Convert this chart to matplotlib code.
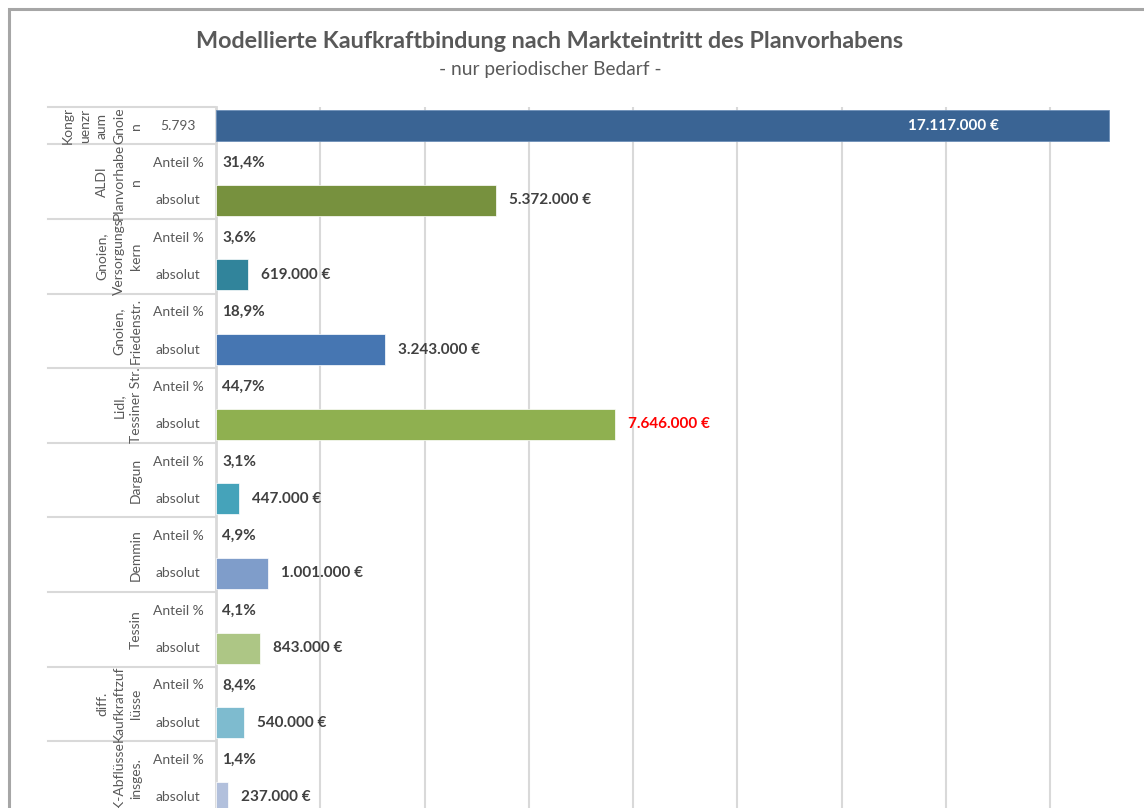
import matplotlib
matplotlib.use('Agg')
import matplotlib.pyplot as plt
from matplotlib.lines import Line2D
from matplotlib.patches import Rectangle
from matplotlib.transforms import blended_transform_factory

plt.rcParams['font.family'] = ['Lato', 'DejaVu Sans']

# Daten
kongruenz_name = "Kongr\nuenzr\naum\nGnoie\nn"
kongruenz_label = "5.793"
kongruenz_wert = 17117000

gruppen = ["ALDI\nPlanvorhabe\nn", "Gnoien,\nVersorgungs\nkern", "Gnoien,\nFriedenstr.",
           "Lidl,\nTessiner Str.", "Dargun", "Demmin", "Tessin",
           "diff.\nKaufkraftzuf\nlüsse", "KK-Abflüsse\ninsges."]
anteil = [31.4, 3.6, 18.9, 44.7, 3.1, 4.9, 4.1, 8.4, 1.4]
absolut = [5372000, 619000, 3243000, 7646000, 447000, 1001000, 843000, 540000, 237000]

farben = ['#77913E', '#31849B', '#4676B2', '#8FB050', '#45A3BA',
          '#7F9DCA', '#ADC685', '#7EBBCF', '#B2C0DC']
farbe_kongruenz = '#3A6494'

W, H = 1144, 808
fig = plt.figure(figsize=(W / 100, H / 100), dpi=100)

def fx(px):
    return px / W

def fy(py):
    return 1 - py / H

# Rahmen des Diagramms
fig.add_artist(Rectangle((fx(9), fy(900)), 2, fy(9) - fy(900), transform=fig.transFigure,
                         fill=False, edgecolor='#A6A6A6', linewidth=2.2))

fig.text(fx(550), fy(42), "Modellierte Kaufkraftbindung nach Markteintritt des Planvorhabens",
         ha='center', va='center', fontsize=16.8, fontweight='bold', color='#595959')
fig.text(fx(550), fy(70), "- nur periodischer Bedarf -",
         ha='center', va='center', fontsize=13.8, color='#595959')

n_rows = 1 + 2 * len(gruppen)
top_px, bottom_px = 107, 816
ax = fig.add_axes([fx(216), fy(bottom_px), fx(W) - fx(216), fy(top_px) - fy(bottom_px)])

def euro(v):
    return f"{v:,.0f}".replace(",", ".") + " €"

bh = 0.83
ax.barh(0, kongruenz_wert, height=bh, color=farbe_kongruenz, edgecolor='#6d8fb8', linewidth=0.6, zorder=3)
ax.text(kongruenz_wert - 2100000, 0, euro(kongruenz_wert), ha='right', va='center',
        fontsize=11, fontweight='bold', color='white', zorder=4)

off = 250000
for i, g in enumerate(gruppen):
    ya = 1 + 2 * i
    yb = ya + 1
    ax.text(120000, ya, f"{anteil[i]:.1f}%".replace(".", ","), ha='left', va='center',
            fontsize=11, fontweight='bold', color='#404040', zorder=4)
    ax.barh(yb, absolut[i], height=bh, color=farben[i], edgecolor='white', linewidth=0.5, zorder=3)
    col = '#FF0000' if i == 3 else '#404040'
    ax.text(absolut[i] + off, yb, euro(absolut[i]), ha='left', va='center',
            fontsize=11, fontweight='bold', color=col, zorder=4)

ax.set_xticks(range(0, 20000001, 2000000))
ax.set_xlim(0, (W - 216) / 104.3 * 2000000)
ax.set_ylim(n_rows - 0.5, -0.5)
ax.grid(axis='x', color='#D9D9D9', linewidth=1.5, zorder=0)
ax.tick_params(left=False, bottom=False, labelleft=False, labelbottom=False)
for s in ['top', 'right', 'bottom']:
    ax.spines[s].set_visible(False)
ax.spines['left'].set_color('#D9D9D9')
ax.spines['left'].set_linewidth(2)

# Kategorie-Beschriftungen links
tr = blended_transform_factory(fig.transFigure, ax.transData)
row_labels = [kongruenz_label] + ["Anteil %", "absolut"] * len(gruppen)
for r, lab in enumerate(row_labels):
    ax.text(fx(178), r, lab, transform=tr, ha='center', va='center',
            fontsize=10, color='#595959', clip_on=False)

namen = [kongruenz_name] + gruppen
mitten = [0] + [1.5 + 2 * i for i in range(len(gruppen))]
for name, m in zip(namen, mitten):
    ax.text(fx(142), m, name, transform=tr, rotation=90, ha='right', va='center',
            multialignment='center', fontsize=10, color='#595959', linespacing=1.5,
            clip_on=False)

grenzen = [-0.5, 0.5] + [2.5 + 2 * i for i in range(len(gruppen))]
for b in grenzen:
    ax.add_line(Line2D([fx(48), fx(215)], [b, b], transform=tr, color='#D9D9D9',
                       linewidth=1.5, clip_on=False))

fig.savefig('out.png', dpi=100)
